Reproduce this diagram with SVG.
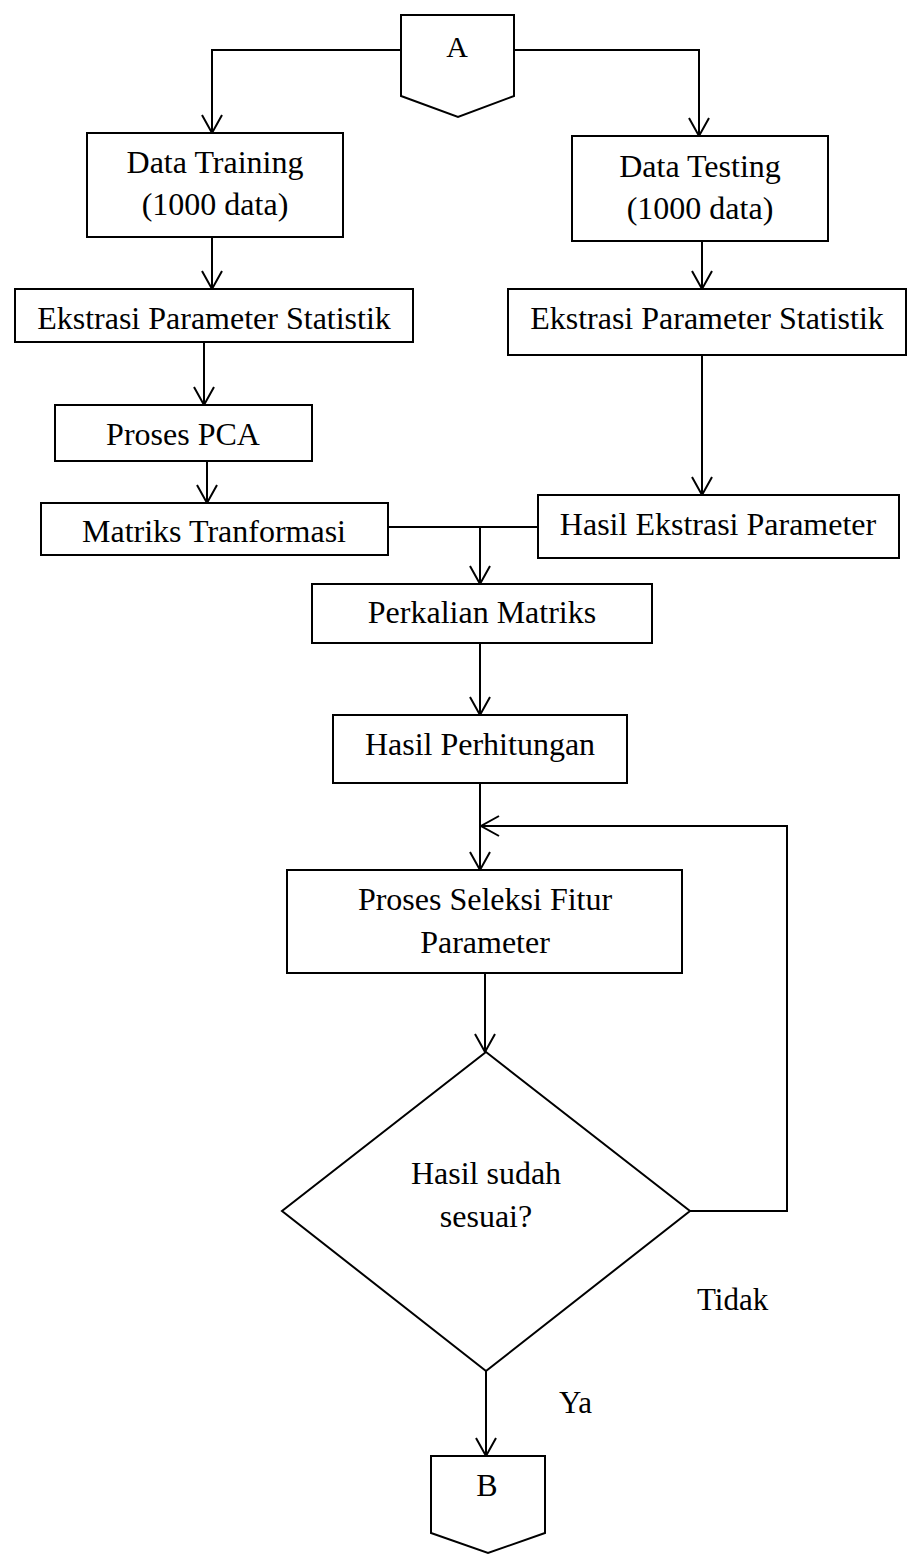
<svg xmlns="http://www.w3.org/2000/svg" width="908" height="1564" viewBox="0 0 908 1564">
  <style>
    .box { fill: #ffffff; stroke: #000000; stroke-width: 2; }
    .conn { fill: none; stroke: #000000; stroke-width: 2; }
    .lbl { font-family: "Liberation Serif", "Times New Roman", serif; font-size: 32px; fill: #000000; text-anchor: middle; }
    .free { font-family: "Liberation Serif", "Times New Roman", serif; font-size: 31px; fill: #000000; }
  </style>
  <defs>
    <marker id="arr" markerUnits="userSpaceOnUse" markerWidth="22" markerHeight="24" refX="18" refY="10" orient="auto" overflow="visible">
      <path d="M0,0 L18,10 L0,20" fill="none" stroke="#000000" stroke-width="2"/>
    </marker>
  </defs>

  <rect width="908" height="1564" fill="#ffffff"/>

  <!-- connectors -->
  <g id="connectors">
    <path class="conn" d="M401,50 H212 V133" marker-end="url(#arr)"/>
    <path class="conn" d="M514,50 H699 V136" marker-end="url(#arr)"/>
    <path class="conn" d="M212,237 V289" marker-end="url(#arr)"/>
    <path class="conn" d="M702,241 V289" marker-end="url(#arr)"/>
    <path class="conn" d="M204,342 V405" marker-end="url(#arr)"/>
    <path class="conn" d="M207,461 V503" marker-end="url(#arr)"/>
    <path class="conn" d="M702,355 V495" marker-end="url(#arr)"/>
    <path class="conn" d="M388,527 H538"/>
    <path class="conn" d="M480,527 V584" marker-end="url(#arr)"/>
    <path class="conn" d="M480,643 V715" marker-end="url(#arr)"/>
    <path class="conn" d="M480,783 V870" marker-end="url(#arr)"/>
    <path class="conn" d="M485,973 V1052" marker-end="url(#arr)"/>
    <path class="conn" d="M690,1211 H787 V826 H481" marker-end="url(#arr)"/>
    <path class="conn" d="M486,1371 V1456" marker-end="url(#arr)"/>
  </g>

  <!-- off-page connector A -->
  <g id="node-a">
    <path class="box" d="M401,15 H514 V96 L458,117 L401,96 Z"/>
    <text class="lbl" x="457" y="57" style="font-size:30px">A</text>
  </g>

  <g id="node-data-training">
    <rect class="box" x="87" y="133" width="256" height="104"/>
    <text class="lbl" x="215" y="173">Data Training</text>
    <text class="lbl" x="215" y="215">(1000 data)</text>
  </g>

  <g id="node-data-testing">
    <rect class="box" x="572" y="136" width="256" height="105"/>
    <text class="lbl" x="700" y="177">Data Testing</text>
    <text class="lbl" x="700" y="219">(1000 data)</text>
  </g>

  <g id="node-ekstrasi-train">
    <rect class="box" x="15" y="289" width="398" height="53"/>
    <text class="lbl" x="214" y="329">Ekstrasi Parameter Statistik</text>
  </g>

  <g id="node-ekstrasi-test">
    <rect class="box" x="508" y="289" width="398" height="66"/>
    <text class="lbl" x="707" y="329">Ekstrasi Parameter Statistik</text>
  </g>

  <g id="node-pca">
    <rect class="box" x="55" y="405" width="257" height="56"/>
    <text class="lbl" x="183" y="445">Proses PCA</text>
  </g>

  <g id="node-matriks">
    <rect class="box" x="41" y="503" width="347" height="52"/>
    <text class="lbl" x="214" y="542">Matriks Tranformasi</text>
  </g>

  <g id="node-hasil-ekstrasi">
    <rect class="box" x="538" y="495" width="361" height="63"/>
    <text class="lbl" x="718" y="535">Hasil Ekstrasi Parameter</text>
  </g>

  <g id="node-perkalian">
    <rect class="box" x="312" y="584" width="340" height="59"/>
    <text class="lbl" x="482" y="623">Perkalian Matriks</text>
  </g>

  <g id="node-hasil-perhitungan">
    <rect class="box" x="333" y="715" width="294" height="68"/>
    <text class="lbl" x="480" y="755">Hasil Perhitungan</text>
  </g>

  <g id="node-seleksi">
    <rect class="box" x="287" y="870" width="395" height="103"/>
    <text class="lbl" x="485" y="910">Proses Seleksi Fitur</text>
    <text class="lbl" x="485" y="953">Parameter</text>
  </g>

  <g id="node-decision">
    <path class="box" d="M486,1052 L690,1211 L486,1371 L282,1211 Z"/>
    <text class="lbl" x="486" y="1184">Hasil sudah</text>
    <text class="lbl" x="486" y="1227">sesuai?</text>
  </g>

  <!-- off-page connector B -->
  <g id="node-b">
    <path class="box" d="M431,1456 H545 V1533 L488,1553 L431,1533 Z"/>
    <text class="lbl" x="487" y="1496">B</text>
  </g>

  <g id="branch-labels">
    <text class="free" x="697" y="1310">Tidak</text>
    <text class="free" x="559" y="1413">Ya</text>
  </g>
</svg>
